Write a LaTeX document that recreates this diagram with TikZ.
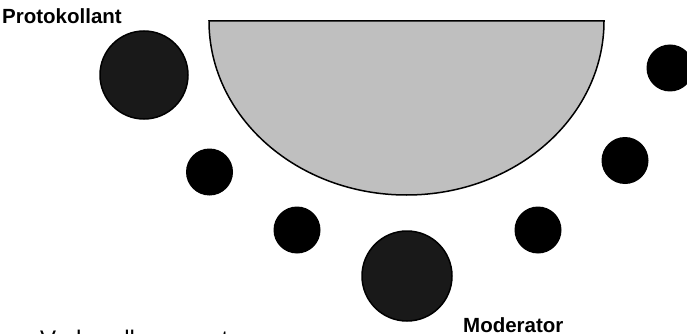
\documentclass[tikz,border=0pt]{standalone}
\usepackage{fontspec}
\setmainfont{Liberation Sans}
\begin{document}
\begin{tikzpicture}[x=1pt,y=-1pt,
  role/.style={circle,draw=black,line width=1.5pt,fill=black!90,inner sep=0pt,minimum size=#1},
  guest/.style={circle,fill=black,inner sep=0pt,minimum size=47pt},
  lbl/.style={inner sep=0pt,anchor=base west,font=\fontsize{20.5}{24}\selectfont\bfseries},
  faint/.style={inner sep=0pt,anchor=base west,font=\fontsize{24}{28}\selectfont}]
\useasboundingbox (0,0) rectangle (687,334);
% table
\draw[line width=1.5pt,fill=black!25] (209,21) -- (604,21) arc[start angle=0,end angle=180,x radius=197.5,y radius=174] -- cycle;
% roles
\node[role=88pt] (prot) at (144,75) {};
\node[role=90pt] (mod) at (407,276) {};
% participants
\node[guest] (p1) at (209.5,172) {};
\node[guest] (p2) at (297,230) {};
\node[guest] (p3) at (538,230) {};
\node[guest] (p4) at (625,160.5) {};
\node[guest] (p5) at (670,68) {};
% labels
\node[lbl] (tprot) at (2,24) {Protokollant};
\node[lbl] (tmod) at (463,332) {Moderator};
\node[faint] (tbot) at (40,347) {Verhandlungspartner};
\end{tikzpicture}
\end{document}
